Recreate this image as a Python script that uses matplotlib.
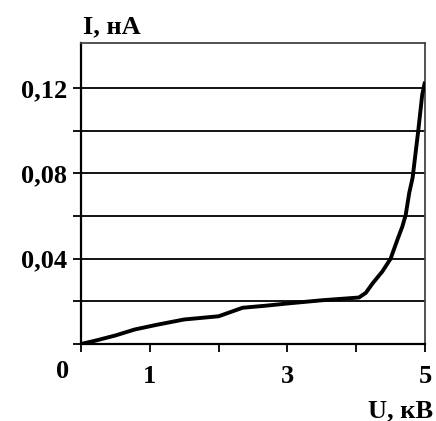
import matplotlib
matplotlib.use("Agg")
import matplotlib.pyplot as plt
import matplotlib.transforms as mtransforms

# Data
U_kV = [0, 0.2, 0.5, 0.78, 1.1, 1.5, 2.0, 2.35, 2.7, 3.0, 3.5, 4.04, 4.14,
        4.24, 4.38, 4.5, 4.6, 4.67, 4.72, 4.77, 4.82, 4.9, 4.96, 5.0]
I_nA = [0, 0.0015, 0.004, 0.0068, 0.009, 0.0115, 0.013, 0.017, 0.018, 0.019,
        0.0205, 0.0218, 0.024, 0.0285, 0.034, 0.040, 0.049, 0.055, 0.0606,
        0.0707, 0.078, 0.0995, 0.117, 0.123]
x_ticks = [0, 1, 2, 3, 4, 5]
x_labels = ['', '1', '', '3', '', '5']
y_ticks = [0, 0.02, 0.04, 0.06, 0.08, 0.10, 0.12]
y_labels = ['', '', '0,04', '', '0,08', '', '0,12']

plt.rcParams['font.family'] = ['Liberation Serif', 'DejaVu Serif']
plt.rcParams['font.weight'] = 'bold'
FS = 19

fig = plt.figure(figsize=(4.36, 4.21), dpi=100)
ax = fig.add_axes([81/436, 1 - 344/421, (425 - 81)/436, (344 - 43.3)/421])

ax.set_xlim(0, 5)
ax.set_ylim(0, 0.141)

for y in y_ticks[1:]:
    ax.axhline(y, color='black', lw=1.3, zorder=1)

ax.plot(U_kV, I_nA, color='black', lw=2.8, zorder=3,
        solid_joinstyle='round', solid_capstyle='butt')

ax.set_xticks(x_ticks)
ax.set_xticklabels(x_labels)
ax.set_yticks(y_ticks)
ax.set_yticklabels(y_labels)
ax.tick_params(axis='both', direction='out', length=6, width=1.3,
               labelsize=FS, colors='black')
ax.tick_params(axis='x', pad=9)
ax.tick_params(axis='y', pad=4)
for lab in ax.get_xticklabels() + ax.get_yticklabels():
    lab.set_fontweight('bold')

for s in ['left', 'bottom']:
    ax.spines[s].set_linewidth(1.6)
for s in ['top', 'right']:
    ax.spines[s].set_linewidth(1.3)
    ax.spines[s].set_color('#444444')

# shared origin label "0"
ax.text(0, 0, '0',
        transform=mtransforms.blended_transform_factory(ax.transData, ax.transAxes)
        + mtransforms.ScaledTranslation(-18/100, -16/100, fig.dpi_scale_trans),
        ha='center', va='top', fontsize=FS, fontweight='bold')

fig.text(83/436, 1 - 33/421, 'I, нА', ha='left', va='baseline',
         fontsize=FS, fontweight='bold')
fig.text(433/436, 1 - 417/421, 'U, кВ', ha='right', va='baseline',
         fontsize=FS, fontweight='bold')

fig.savefig('out.png', dpi=100)
